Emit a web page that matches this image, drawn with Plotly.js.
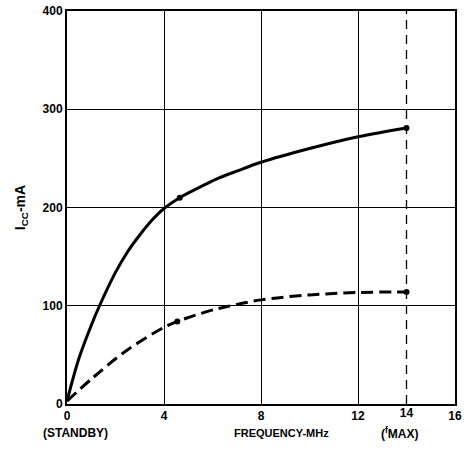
<!DOCTYPE html>
<html>
<head>
<meta charset="utf-8">
<script src="https://cdn.plot.ly/plotly-3.0.1.min.js"></script>
<style>html,body{margin:0;padding:0;background:#fff;}#chart{width:475px;height:449px;}</style>
</head>
<body>
<div id="chart"></div>
<script>
// Data
const solidFreq = [0, 0.5, 1, 1.34, 2, 2.5, 3, 3.5, 4, 4.65, 5.5, 6.16, 7, 8, 10, 12, 14];
const solidIcc  = [3, 47, 80, 100, 134, 155, 172, 187, 199, 210, 221, 229, 237, 246, 260, 272, 281];
const solidDots = {x: [4.65, 14], y: [210, 281]};

const dashFreq = [0, 1.08, 2.46, 4, 4.55, 5.9, 6.57, 8, 10, 12, 14];
const dashIcc  = [3, 27, 54.5, 78, 84, 95, 99, 106, 111, 113.5, 114];
const dashDots = {x: [4.55, 14], y: [84, 114]};

const fMax = 14;
const xTicks = [0, 4, 8, 12, 16];
const xExtraTicks = [14];
const yTicks = [0, 100, 200, 300, 400];
const bottomLabels = ["(STANDBY)", "FREQUENCY-MHz", "(<sup>f</sup>MAX)"];
const bottomLabelX = [0.35, 8.85, 13.7];

const FONT = "Liberation Sans, Arial, sans-serif";

const traces = [
  {x: solidFreq, y: solidIcc, mode: 'lines', line: {color: '#000', width: 3, shape: 'spline', smoothing: 1}},
  {x: solidDots.x, y: solidDots.y, mode: 'markers', marker: {color: '#000', size: 6}},
  {x: dashFreq, y: dashIcc, mode: 'lines', line: {color: '#000', width: 3, shape: 'spline', smoothing: 1, dash: '12px,6px'}},
  {x: dashDots.x, y: dashDots.y, mode: 'markers', marker: {color: '#000', size: 6}},
  {x: [fMax, fMax], y: [yTicks[0], yTicks[yTicks.length-1]], mode: 'lines', line: {color: '#000', width: 1.3, dash: '9px,6px'}},
  {x: xExtraTicks, y: [0], xaxis: 'x2', mode: 'markers', marker: {opacity: 0}}
];

const layout = {
  width: 475, height: 449,
  margin: {l: 67, r: 20, t: 11, b: 45},
  paper_bgcolor: '#fff', plot_bgcolor: '#fff',
  showlegend: false,
  font: {family: FONT, color: '#000', size: 12, weight: 'bold'},
  xaxis: {
    range: [0, 16], tickvals: xTicks, ticktext: xTicks.map(String),
    showgrid: true, gridcolor: '#000', gridwidth: 1,
    zeroline: false, showline: true, linecolor: '#000', linewidth: 2, mirror: true,
    ticks: '', tickfont: {family: FONT, size: 12, weight: 'bold', color: '#000'}
  },
  xaxis2: {
    range: [0, 16], overlaying: 'x', anchor: 'y', side: 'bottom',
    tickvals: xExtraTicks, ticktext: xExtraTicks.map(String),
    showgrid: false, zeroline: false, showline: false, ticks: '',
    tickfont: {family: FONT, size: 12, weight: 'bold', color: '#000'}
  },
  yaxis: {
    range: [0, 400], tickvals: yTicks, ticktext: yTicks.map(String),
    showgrid: true, gridcolor: '#000', gridwidth: 1,
    zeroline: false, showline: true, linecolor: '#000', linewidth: 2, mirror: true,
    ticks: '', tickfont: {family: FONT, size: 12, weight: 'bold', color: '#000'},
    title: {text: 'I<sub>CC</sub>-mA', font: {family: FONT, size: 14, weight: 'bold', color: '#000'}, standoff: 14}
  },
  annotations: bottomLabels.map((t, i) => ({
    text: t, x: bottomLabelX[i], xref: 'x', y: 0, yref: 'paper', yshift: -29,
    showarrow: false, xanchor: 'center', yanchor: 'middle',
    font: {family: FONT, size: i === 1 ? 11 : 12, weight: 'bold', color: '#000'}
  }))
};

Plotly.newPlot('chart', traces, layout, {displayModeBar: false, staticPlot: true});
</script>
</body>
</html>
